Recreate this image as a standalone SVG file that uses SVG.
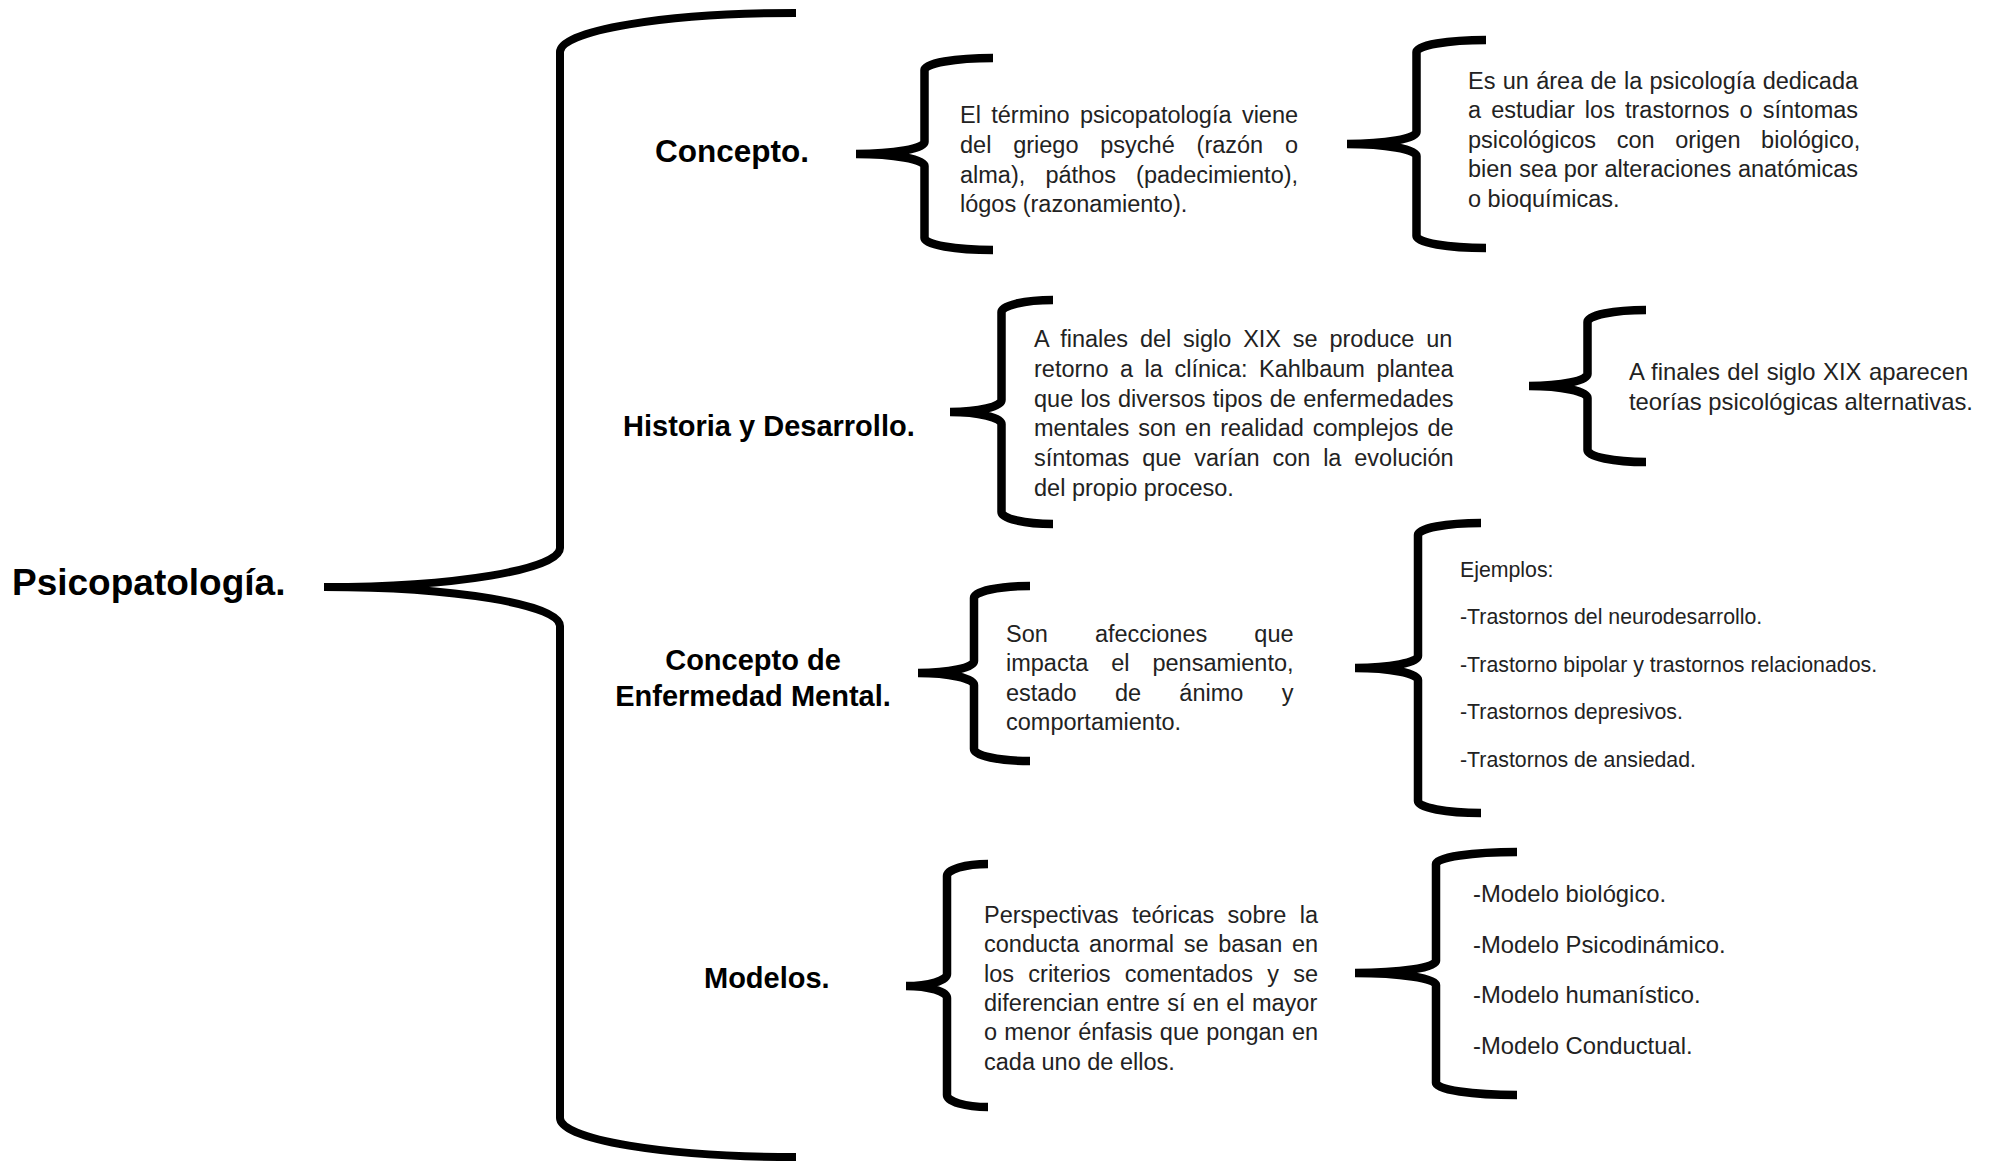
<svg xmlns="http://www.w3.org/2000/svg" width="1998" height="1162" viewBox="0 0 1998 1162">
<style>
text{font-family:"Liberation Sans",Arial,Helvetica,sans-serif}
.root{font-size:37px;font-weight:bold;fill:#000}
.lbl{font-size:29px;font-weight:bold;fill:#000}
.body{font-size:23.5px;fill:#222}
.list{font-size:23.8px;fill:#222}
.small{font-size:21.3px;fill:#222}
.brace{fill:none;stroke:#000;stroke-width:8.5;stroke-linecap:butt;stroke-linejoin:round}
.bigbrace{fill:none;stroke:#000;stroke-width:8;stroke-linecap:butt;stroke-linejoin:round}
</style>
<rect width="1998" height="1162" fill="#fff"/>
<g id="connectors">
<path class="bigbrace" d="M796,13 A236,39 0 0 0 560,52 L560,548 A236,39 0 0 1 324,587 M324,587 A236,39 0 0 1 560,626 L560,1118 A236,39 0 0 0 796,1157"/>
<path class="brace" d="M993,58 A68.5,12 0 0 0 924.5,70 L924.5,142 A68.5,12 0 0 1 856,154 M856,154 A68.5,12 0 0 1 924.5,166 L924.5,238 A68.5,12 0 0 0 993,250"/>
<path class="brace" d="M1486,40 A69.5,12 0 0 0 1416.5,52 L1416.5,132 A69.5,12 0 0 1 1347,144 M1347,144 A69.5,12 0 0 1 1416.5,156 L1416.5,236 A69.5,12 0 0 0 1486,248"/>
<path class="brace" d="M1053,300 A51.5,12 0 0 0 1001.5,312 L1001.5,400 A51.5,12 0 0 1 950,412 M950,412 A51.5,12 0 0 1 1001.5,424 L1001.5,512 A51.5,12 0 0 0 1053,524"/>
<path class="brace" d="M1646,310 A58.5,12 0 0 0 1587.5,322 L1587.5,374 A58.5,12 0 0 1 1529,386 M1529,386 A58.5,12 0 0 1 1587.5,398 L1587.5,450 A58.5,12 0 0 0 1646,462"/>
<path class="brace" d="M1030,586 A56,12 0 0 0 974,598 L974,661 A56,12 0 0 1 918,673 M918,673 A56,12 0 0 1 974,685 L974,749 A56,12 0 0 0 1030,761"/>
<path class="brace" d="M1481,523 A63,12 0 0 0 1418,535 L1418,656 A63,12 0 0 1 1355,668 M1355,668 A63,12 0 0 1 1418,680 L1418,801 A63,12 0 0 0 1481,813"/>
<path class="brace" d="M988,864 A41,12 0 0 0 947,876 L947,974 A41,12 0 0 1 906,986 M906,986 A41,12 0 0 1 947,998 L947,1095 A41,12 0 0 0 988,1107"/>
<path class="brace" d="M1517,852 A81,12 0 0 0 1436,864 L1436,961 A81,12 0 0 1 1355,973 M1355,973 A81,12 0 0 1 1436,985 L1436,1083 A81,12 0 0 0 1517,1095"/>
</g>
<g id="root">
<text class="root" x="12" y="595">Psicopatología.</text>
</g>
<g id="concepto">
<text class="lbl" x="655" y="162" style="font-size:31.5px">Concepto.</text>
</g>
<g id="historia">
<text class="lbl" x="623" y="436">Historia y Desarrollo.</text>
</g>
<g id="enfermedad">
<text class="lbl" text-anchor="middle" x="753" y="670">Concepto de</text>
<text class="lbl" text-anchor="middle" x="753" y="706">Enfermedad Mental.</text>
</g>
<g id="modelos">
<text class="lbl" x="704" y="988">Modelos.</text>
</g>
<g id="concepto-texto">
<text class="body" x="960" y="123" word-spacing="3.83">El término psicopatología viene</text>
<text class="body" x="960" y="152.8" word-spacing="15.28">del griego psyché (razón o</text>
<text class="body" x="960" y="182.6" word-spacing="13.6">alma), páthos (padecimiento),</text>
<text class="body" x="960" y="212.4">lógos (razonamiento).</text>
</g>
<g id="concepto-definicion">
<text class="body" x="1468" y="89" word-spacing="0.77">Es un área de la psicología dedicada</text>
<text class="body" x="1468" y="118.4" word-spacing="3.56">a estudiar los trastornos o síntomas</text>
<text class="body" x="1468" y="147.8" word-spacing="14.1">psicológicos con origen biológico,</text>
<text class="body" x="1468" y="177.2" word-spacing="0.2">bien sea por alteraciones anatómicas</text>
<text class="body" x="1468" y="206.6">o bioquímicas.</text>
</g>
<g id="historia-texto">
<text class="body" x="1034" y="347" word-spacing="5.26">A finales del siglo XIX se produce un</text>
<text class="body" x="1034" y="376.8" word-spacing="5.0">retorno a la clínica: Kahlbaum plantea</text>
<text class="body" x="1034" y="406.6" word-spacing="0.82">que los diversos tipos de enfermedades</text>
<text class="body" x="1034" y="436.4" word-spacing="2.4">mentales son en realidad complejos de</text>
<text class="body" x="1034" y="466.2" word-spacing="6.32">síntomas que varían con la evolución</text>
<text class="body" x="1034" y="496">del propio proceso.</text>
</g>
<g id="historia-teorias">
<text class="list" x="1629" y="380" word-spacing="0.9">A finales del siglo XIX aparecen</text>
<text class="list" x="1629" y="409.5">teorías psicológicas alternativas.</text>
</g>
<g id="enfermedad-texto">
<text class="body" x="1006" y="642" word-spacing="40.55">Son afecciones que</text>
<text class="body" x="1006" y="671.3" word-spacing="16.4">impacta el pensamiento,</text>
<text class="body" x="1006" y="700.6" word-spacing="31.8">estado de ánimo y</text>
<text class="body" x="1006" y="729.9">comportamiento.</text>
</g>
<g id="enfermedad-ejemplos">
<text class="small" x="1460" y="577">Ejemplos:</text>
<text class="small" x="1460" y="624">-Trastornos del neurodesarrollo.</text>
<text class="small" x="1460" y="671.5">-Trastorno bipolar y trastornos relacionados.</text>
<text class="small" x="1460" y="719">-Trastornos depresivos.</text>
<text class="small" x="1460" y="766.5">-Trastornos de ansiedad.</text>
</g>
<g id="modelos-texto">
<text class="body" x="984" y="923" word-spacing="6.87">Perspectivas teóricas sobre la</text>
<text class="body" x="984" y="952.3" word-spacing="3.17">conducta anormal se basan en</text>
<text class="body" x="984" y="981.6" word-spacing="7.75">los criterios comentados y se</text>
<text class="body" x="984" y="1010.9" word-spacing="0.81">diferencian entre sí en el mayor</text>
<text class="body" x="984" y="1040.2" word-spacing="0.7">o menor énfasis que pongan en</text>
<text class="body" x="984" y="1069.5">cada uno de ellos.</text>
</g>
<g id="modelos-lista">
<text class="list" x="1473" y="902">-Modelo biológico.</text>
<text class="list" x="1473" y="952.5">-Modelo Psicodinámico.</text>
<text class="list" x="1473" y="1003">-Modelo humanístico.</text>
<text class="list" x="1473" y="1053.5">-Modelo Conductual.</text>
</g>
</svg>
